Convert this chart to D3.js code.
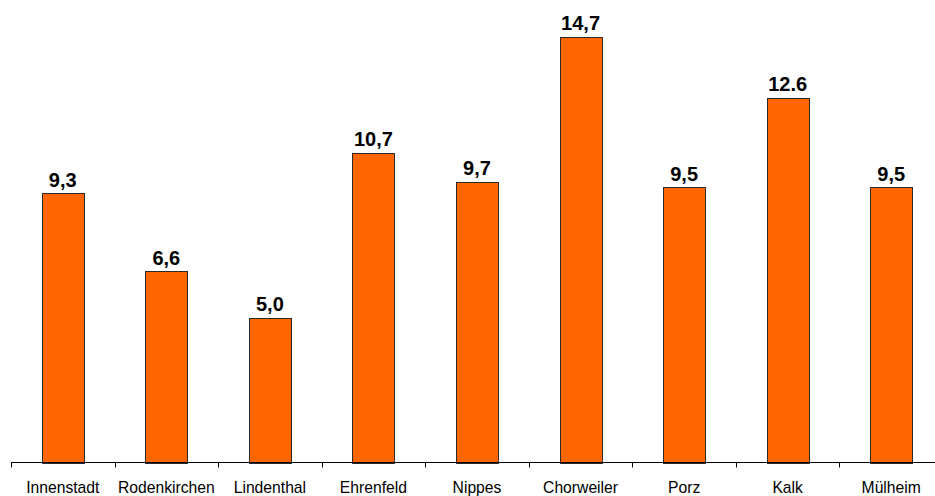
<!DOCTYPE html>
<html><head><meta charset="utf-8">
<script src="https://cdn.jsdelivr.net/npm/d3@7"></script>
<style>body{margin:0;background:#fff}svg{display:block}</style>
</head><body>
<script>
const categories = ["Innenstadt","Rodenkirchen","Lindenthal","Ehrenfeld","Nippes","Chorweiler","Porz","Kalk","Mülheim"];
const values = [9.3, 6.6, 5.0, 10.7, 9.7, 14.7, 9.5, 12.6, 9.5];
const valueLabels = ["9,3","6,6","5,0","10,7","9,7","14,7","9,5","12.6","9,5"];

const W = 935, H = 496;
const svg = d3.select("body").append("svg").attr("width", W).attr("height", H);
const x = d3.scaleBand().domain(categories).range([11, 943]).paddingInner(0.595).paddingOuter(0.2975);
const xTicks = d3.scaleBand().domain(categories).range([11, 943]);
const y = d3.scaleLinear().domain([0, 16]).range([462.5, -0.9]);

svg.append("g").selectAll("rect").data(values).join("rect")
  .attr("x", (d,i) => Math.round(x(categories[i])) + 0.5)
  .attr("y", d => Math.round(y(d)) + 0.5)
  .attr("width", Math.round(x.bandwidth()))
  .attr("height", d => Math.round(y(0)) - Math.round(y(d)))
  .attr("fill", "#FF6600").attr("stroke", "#2a2a2a").attr("stroke-width", 1);

svg.append("g").selectAll("text").data(values).join("text")
  .attr("x", (d,i) => x(categories[i]) + x.bandwidth()/2)
  .attr("y", d => y(d) - 6.5)
  .attr("text-anchor", "middle")
  .attr("font-family", "Liberation Sans, Arial, sans-serif")
  .attr("font-weight", "bold").attr("font-size", 20)
  .text((d,i) => valueLabels[i]);

const ax = svg.append("g").attr("transform", "translate(0,462.5)");
ax.append("line").attr("x1", 11).attr("x2", 943).attr("stroke", "#000");
ax.selectAll("line.t").data(categories).join("line").attr("class","t")
  .attr("x1", d => Math.round(xTicks(d)) + 0.5).attr("x2", d => Math.round(xTicks(d)) + 0.5)
  .attr("y1", 0).attr("y2", 5).attr("stroke", "#000");
ax.selectAll("text").data(categories).join("text")
  .attr("x", d => xTicks(d) + xTicks.bandwidth()/2)
  .attr("y", 30)
  .attr("text-anchor", "middle")
  .attr("font-family", "Liberation Sans, Arial, sans-serif")
  .attr("font-size", 15.7).attr("fill", "#000")
  .text(d => d);
</script>
</body></html>
